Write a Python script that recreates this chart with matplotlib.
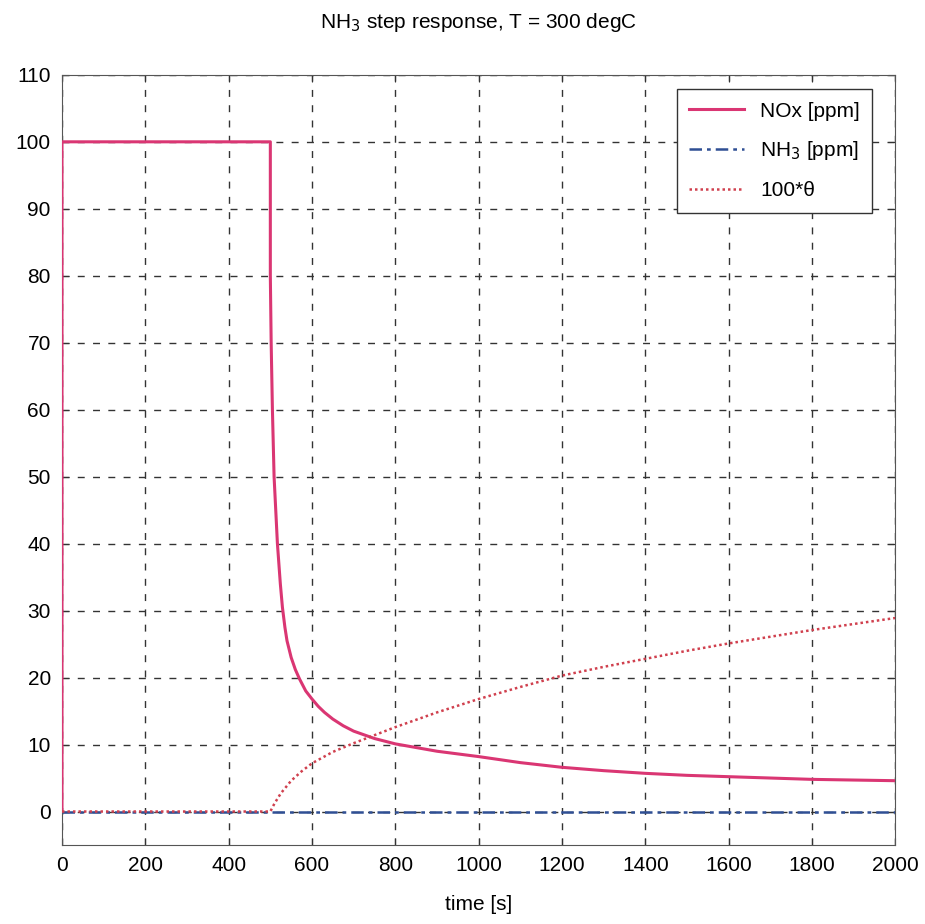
import matplotlib
matplotlib.use('Agg')
import matplotlib.pyplot as plt

plt.rcParams['font.family'] = ['Liberation Sans', 'DejaVu Sans']

# NOx outlet concentration [ppm]
nox_t = [0, 0, 500, 500, 502, 505, 509, 517, 524, 529, 535, 540, 550, 560, 570,
         585, 600, 615, 630, 650, 675, 700, 750, 800, 900, 1000, 1100, 1200,
         1300, 1400, 1500, 1600, 1700, 1800, 1900, 2000]
nox_ppm = [0, 100, 100, 80, 70, 60, 50, 40, 34, 30.5, 27.5, 25.5, 23, 21.2,
           19.8, 18.0, 16.8, 15.7, 14.8, 13.8, 12.8, 12.0, 10.9, 10.1, 9.0,
           8.2, 7.3, 6.6, 6.1, 5.7, 5.4, 5.2, 5.0, 4.8, 4.7, 4.6]

# NH3 outlet concentration [ppm]
nh3_t = [0, 2000]
nh3_ppm = [0, 0]

# 100 * surface coverage
theta_t = [0, 500, 510, 525, 550, 575, 600, 650, 700, 750, 800, 900, 1000,
           1100, 1200, 1300, 1400, 1500, 1600, 1700, 1800, 1900, 2000]
theta_100 = [0, 0, 1.2, 2.7, 4.6, 6.0, 7.2, 8.9, 10.2, 11.4, 12.6, 14.8, 16.8,
             18.6, 20.3, 21.6, 22.8, 24.0, 25.1, 26.1, 27.1, 28.0, 28.9]

fig = plt.figure(figsize=(9.25, 9.24), dpi=100)
ax = fig.add_axes([0.067, 0.0855, 0.901, 0.8335])

ax.plot(nox_t, nox_ppm, color='#da3673', lw=2.2, label='NOx [ppm]', zorder=3)
ax.plot(nh3_t, nh3_ppm, color='#2f4f94', lw=1.8, linestyle=(0, (5, 2, 1.5, 2)),
        label='NH$_3$ [ppm]', zorder=3)
ax.plot(theta_t, theta_100, color='#d0404e', lw=1.8, linestyle=(0, (1, 1.2)),
        label='100*θ', zorder=3)

ax.set_xlim(0, 2000)
ax.set_ylim(-5, 110)
ax.set_xticks(range(0, 2001, 200))
ax.set_yticks(range(0, 111, 10))
ax.tick_params(direction='in', top=True, right=True, labelsize=15, length=5,
               color='#333333', pad=8)
ax.grid(True, color='#333333', linestyle=(0, (5, 6)), lw=1.0)
for s in ax.spines.values():
    s.set_color('#555555')

ax.set_title('NH$_3$ step response, T = 300 degC', fontsize=15, pad=34)
ax.set_xlabel('time [s]', fontsize=15, labelpad=14)

leg = ax.legend(loc='upper right', fontsize=15, fancybox=False, framealpha=1,
                edgecolor='#333333', handlelength=2.6, borderpad=0.6,
                labelspacing=0.9, handletextpad=0.8,
                bbox_to_anchor=(0.985, 0.995))
leg.get_frame().set_linewidth(1.0)

fig.savefig('out.png', dpi=100)
